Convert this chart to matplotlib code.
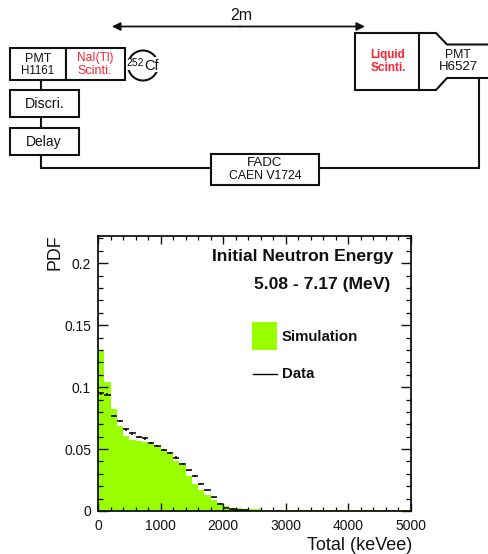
import matplotlib
matplotlib.use("Agg")
import matplotlib.pyplot as plt
import numpy as np
from matplotlib.patches import Rectangle, Circle
from matplotlib.ticker import MultipleLocator, FuncFormatter

plt.rcParams['font.family'] = ['Liberation Sans', 'DejaVu Sans']

BIN_WIDTH = 100
simulation = [.130, .1045, .0827, .0688, .0608, .0573, .0562, .0557, .054, .052,
              .049, .046, .040, .0368, .0279, .0220, .0166, .0126, .0086, .0059,
              .0040, .0028, .0022, .0016, .0014, .0013, .0012, .0012, .0012, .0011,
              .0011, .0011, .0011, .0011, .0011, .0011, .0011, .0011, .0011, .0011,
              .0011, .0011, .0011, .0011, .0011, .0011, .0011, .0011, .0011, .0011]
data = [.095, .094, .0766, .0725, .0659, .0627, .0597, .0586, .0546, .0522,
        .0493, .0466, .0431, .0383, .0327, .0281, .0222, .0166, .0112, .0059,
        .0024, .0014, .0008, .0006, .0005, .0004, .0004, .0004, .0004, .0004,
        .0003, .0003, .0003, .0003, .0003, .0003, .0003, .0003, .0003, .0003,
        .0003, .0003, .0003, .0003, .0003, .0003, .0003, .0003, .0003, .0003]
data_err = [.0012, .0012, .0011, .0010, .0010, .0010, .0010, .0010, .0009, .0009,
            .0009, .0009, .0009, .0008, .0008, .0007, .0007, .0006, .0005, .0004,
            .0003, .0002, .0002, .0001, .0001, .0001, .0001, .0001, .0001, .0001,
            .0001, .0001, .0001, .0001, .0001, .0001, .0001, .0001, .0001, .0001,
            .0001, .0001, .0001, .0001, .0001, .0001, .0001, .0001, .0001, .0001]
xticks = [0, 1000, 2000, 3000, 4000, 5000]
yticks = [0, 0.05, 0.1, 0.15, 0.2]
GREEN = '#99ff00'
W, H = 489, 554

fig = plt.figure(figsize=(W / 100, H / 100), dpi=100, facecolor='white')
L, R, T, B = 98, 411, 236, 511
ax = fig.add_axes([L / W, 1 - B / H, (R - L) / W, (B - T) / H])
edges = np.arange(len(simulation) + 1) * BIN_WIDTH
ax.stairs(simulation, edges, fill=True, color=GREEN, linewidth=0)
centers = edges[:-1] + BIN_WIDTH / 2
n_visible = 24
ax.errorbar(centers[:n_visible], data[:n_visible], xerr=BIN_WIDTH / 2, yerr=data_err[:n_visible],
            fmt='none', ecolor='black', elinewidth=1.1, capsize=0)
ax.set_xlim(0, 5000)
ax.set_ylim(0, 0.222)
ax.set_xticks(xticks)
ax.set_yticks(yticks)
ax.xaxis.set_minor_locator(MultipleLocator(200))
ax.yaxis.set_minor_locator(MultipleLocator(0.01))
ax.yaxis.set_major_formatter(FuncFormatter(lambda v, p: '0' if v == 0 else f'{v:g}'))
ax.tick_params(which='major', direction='in', top=True, right=True, labelsize=10,
               width=1.0, colors='#111111')
ax.tick_params(axis='x', which='major', length=6, pad=6)
ax.tick_params(axis='y', which='major', length=7.5, pad=5)
ax.tick_params(axis='x', which='minor', direction='in', top=True, length=3, width=0.9)
ax.tick_params(axis='y', which='minor', direction='in', right=True, length=3.8, width=0.9)
for s in ax.spines.values():
    s.set_linewidth(1.2)
ax.set_axisbelow(False)

# Overlay in pixel coordinates for the apparatus sketch and the chart annotations
ov = fig.add_axes([0, 0, 1, 1], facecolor='none')
ov.set_xlim(0, W)
ov.set_ylim(H, 0)
ov.axis('off')

ink = '#111111'
ov.text(393, 257, 'Initial Neutron Energy', ha='right', va='center', fontsize=12.6, fontweight='bold', color=ink)
ov.text(390, 285, '5.08 - 7.17 (MeV)', ha='right', va='center', fontsize=12.6, fontweight='bold', color=ink)
ov.add_patch(Rectangle((252, 322), 25, 28, fc=GREEN, ec='none'))
ov.plot([253, 277], [373.5, 373.5], color='black', lw=1)
ov.text(282, 337, 'Simulation', ha='left', va='center', fontsize=10.8, fontweight='bold', color=ink)
ov.text(282, 374, 'Data', ha='left', va='center', fontsize=10.8, fontweight='bold', color=ink)
ov.text(412, 546, 'Total (keVee)', ha='right', va='center', fontsize=13, color=ink)
ov.text(55, 252, 'PDF', ha='center', va='center', rotation=90, fontsize=12.8, color=ink)

LW = 1.5
def box(x0, y0, x1, y1):
    ov.add_patch(Rectangle((x0, y0), x1 - x0, y1 - y0, fc='white', ec=ink, lw=LW))
def line(xs, ys):
    ov.plot(xs, ys, color=ink, lw=LW, solid_joinstyle='miter', solid_capstyle='butt')
def label(x, y, s, size=8.5, color=ink, **kw):
    ov.text(x, y, s, ha='center', va='center', fontsize=size, color=color, **kw)

ov.annotate('', xy=(112, 26.5), xytext=(240, 26.5),
            arrowprops=dict(arrowstyle='-|>', color=ink, lw=1.3, mutation_scale=12, shrinkA=0, shrinkB=0))
ov.annotate('', xy=(365, 26.5), xytext=(240, 26.5),
            arrowprops=dict(arrowstyle='-|>', color=ink, lw=1.3, mutation_scale=12, shrinkA=0, shrinkB=0))
label(241, 16, '2m', size=11.5)

line([41, 41], [80, 90])
line([41, 41], [117, 128])
line([41, 41, 211], [155, 168, 168])
line([319, 479, 479], [168, 168, 78])
box(10, 48, 66, 80)
box(66, 48, 125, 80)
box(10, 90, 79, 117)
box(10, 128, 79, 155)
box(211, 153.5, 319, 185)
box(355, 33, 419, 90)
ov.plot([419, 436, 447, 489], [33, 33, 44.5, 44.5], color=ink, lw=LW)
ov.plot([419, 436, 447, 489], [90, 90, 78, 78], color=ink, lw=LW)

RED = '#ff2030'
label(38, 59, 'PMT', size=9)
label(38, 71, 'H1161', size=8.3)
label(95, 58.5, 'NaI(Tl)', size=8.6, color=RED)
label(95, 70.5, 'Scinti.', size=9, color=RED)
label(45, 104, 'Discri.', size=10.3)
label(44, 142, 'Delay', size=10)
label(265, 163, 'FADC', size=9.5)
label(265.5, 176, 'CAEN V1724', size=8.8)
label(388, 55, 'Liquid', size=8.3, color=RED, fontweight='bold')
label(388, 68, 'Scinti.', size=8.5, color=RED, fontweight='bold')
label(458, 55, 'PMT', size=8.8)
label(458, 67, 'H6527', size=9.5)

ov.add_patch(Circle((143, 65.5), 15, fc='none', ec=ink, lw=1.5))
ov.add_patch(Rectangle((126, 59), 14, 11, fc='white', ec='none'))
ov.add_patch(Rectangle((147, 57), 13, 15, fc='white', ec='none'))
label(135, 63, '252', size=7.5)
label(152, 65.5, 'Cf', size=10.5)

fig.savefig('out.png', dpi=100)
